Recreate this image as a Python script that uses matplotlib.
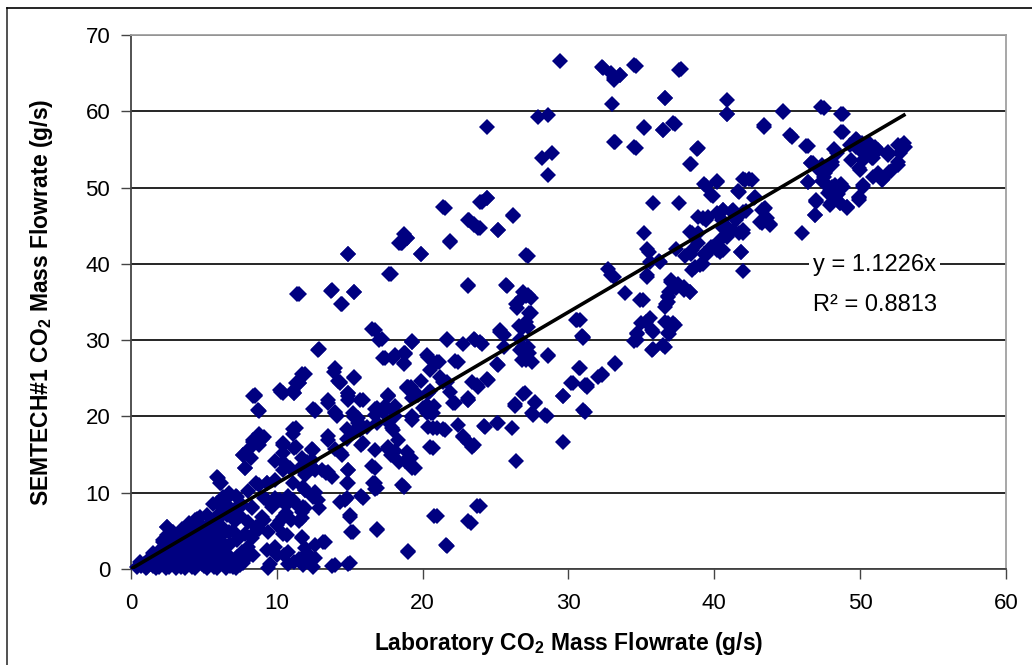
import matplotlib.pyplot as plt
import numpy as np
from matplotlib.lines import Line2D

plt.rcParams["font.family"] = ["Liberation Sans", "DejaVu Sans"]
plt.rcParams["mathtext.fontset"] = "custom"
plt.rcParams["mathtext.rm"] = "Liberation Sans"
plt.rcParams["mathtext.bf"] = "Liberation Sans:bold"

# Laboratory vs SEMTECH#1 CO2 mass flowrate (g/s), grouped by region of the plot
lab_upper = [29.4, 32.3, 32.9, 33.1, 33.5, 34.5, 37.7, 33.0, 33.1, 34.5,
             35.2, 36.5, 36.6, 37.2, 24.4, 27.9, 28.6, 28.2, 28.9, 28.6,
             40.9, 40.9, 38.8, 38.3, 43.4, 44.7, 45.2, 46.3, 47.3, 48.7,
             48.7, 40.2, 39.3, 42.0, 42.4, 41.6, 39.8, 35.8, 37.6, 38.3,
             38.9, 39.4, 38.9, 35.2, 35.4, 36.2, 32.7, 32.9, 33.9, 37.0,
             37.5, 36.9, 38.3, 37.9, 38.0, 37.4, 38.4, 38.7, 39.2, 39.3,
             39.9, 40.4, 40.6, 40.9, 41.2, 41.5, 41.7, 42.0, 41.8, 42.0,
             42.2, 42.7, 43.4, 43.1, 43.8, 43.6, 46.0, 46.4, 46.6, 47.0,
             46.9, 47.4, 47.6, 47.4, 47.9, 48.0, 48.3, 48.5, 48.7, 49.1,
             49.4, 49.7, 49.9, 49.9, 50.2, 50.3, 50.6, 50.8, 51.0, 51.2,
             51.6, 51.9, 52.1, 52.6, 52.8, 53.0, 49.7, 50.1, 48.1, 48.2]
sem_upper = [66.6, 65.8, 65.0, 64.3, 64.8, 66.0, 65.5, 61.0, 56.0, 55.3,
             57.9, 57.6, 61.8, 58.5, 57.9, 59.2, 59.5, 53.9, 54.5, 51.6,
             61.5, 59.7, 55.1, 53.1, 58.2, 60.0, 56.9, 55.5, 60.5, 59.7,
             57.3, 50.8, 50.4, 51.1, 51.1, 49.6, 49.0, 48.0, 48.0, 44.2,
             46.2, 45.8, 44.1, 44.1, 41.9, 40.4, 39.3, 38.5, 36.2, 37.9,
             37.3, 36.3, 36.3, 36.9, 41.0, 42.0, 41.3, 39.6, 40.0, 41.3,
             42.2, 41.6, 44.7, 43.9, 46.9, 45.8, 44.0, 44.4, 41.6, 39.1,
             46.9, 48.6, 47.2, 45.5, 45.2, 46.0, 44.0, 50.7, 53.2, 48.3,
             46.4, 53.0, 51.9, 50.8, 49.7, 48.0, 50.3, 49.1, 50.4, 47.5,
             53.6, 55.3, 52.5, 48.7, 50.3, 54.8, 55.8, 53.9, 55.3, 51.9,
             51.1, 54.7, 52.2, 53.3, 55.5, 55.8, 56.4, 55.8, 53.4, 55.0]

lab_upper2 = [32.4, 33.1, 33.5, 34.6, 37.6, 36.6, 40.9, 35.2, 36.5, 37.3,
              33.2, 34.6, 38.9, 38.4, 43.4, 44.7, 45.3, 46.4, 47.5, 48.8,
              48.8, 39.4, 40.2, 39.9, 41.7, 42.1, 42.6, 42.8, 43.5, 40.6,
              41.3, 46.4, 46.8, 47.0, 47.5, 48.1, 48.1, 48.8, 49.9, 50.2,
              49.3, 49.8, 50.0, 50.2, 50.7, 51.2, 50.9, 50.0, 50.9, 51.5,
              51.9, 52.6, 53.1, 52.7, 52.6, 52.0, 48.4, 46.6, 47.2, 47.6,
              47.8, 48.3, 48.6, 49.1]
sem_upper2 = [65.7, 64.1, 64.8, 65.9, 65.4, 61.7, 59.6, 57.8, 57.5, 58.3,
              56.0, 55.2, 55.2, 53.1, 57.9, 59.9, 56.6, 55.4, 60.4, 59.6,
              57.3, 50.2, 50.7, 48.9, 49.4, 51.0, 51.0, 48.8, 47.3, 47.1,
              47.1, 50.7, 53.2, 48.4, 51.4, 50.1, 53.0, 50.1, 48.6, 50.1,
              55.6, 56.2, 54.9, 53.6, 54.9, 54.9, 53.9, 52.3, 51.4, 51.0,
              54.3, 55.6, 55.3, 54.5, 53.0, 52.0, 54.5, 53.2, 52.3, 50.6,
              49.3, 48.8, 48.0, 47.5]

lab_band = [35.5, 35.6, 36.3, 33.1, 35.1, 35.4, 37.0, 37.4, 37.9, 38.3,
            36.8, 36.6, 36.8, 35.0, 35.6, 34.7, 34.7, 35.8, 36.8, 37.3,
            36.8, 35.7, 36.6, 33.2, 32.3, 31.3, 31.0, 30.8, 38.5, 38.5,
            39.0, 39.4, 38.5, 38.9, 39.2, 39.6, 40.2, 40.6, 41.2, 42.0,
            39.8, 40.2, 40.6, 40.4, 40.9, 41.3, 40.9, 40.5, 41.8, 42.0,
            43.3, 43.3, 43.8, 46.9, 47.0, 47.9, 48.6, 49.1, 49.9]
sem_band = [41.6, 40.2, 40.2, 38.3, 35.3, 38.3, 37.6, 36.8, 36.6, 36.3,
            35.7, 34.3, 35.0, 32.2, 32.9, 30.9, 30.0, 31.1, 30.9, 32.0,
            32.2, 28.7, 29.1, 27.0, 25.4, 24.1, 30.4, 32.6, 44.0, 39.2,
            39.8, 41.2, 41.8, 42.7, 46.0, 46.1, 46.7, 47.1, 46.8, 46.8,
            42.2, 41.8, 41.8, 43.1, 43.5, 44.4, 44.8, 45.7, 41.6, 44.0,
            47.1, 45.3, 45.1, 46.4, 48.1, 47.7, 48.0, 47.3, 48.4]

lab_mid = [36.6, 37.2, 36.9, 36.5, 35.8, 35.7, 35.3, 34.7, 34.5, 34.9,
           35.4, 36.7, 36.8, 33.2, 32.3, 30.7, 30.9, 30.5, 30.2, 31.1,
           29.6, 31.0, 29.6, 28.6, 28.4, 27.5, 27.7, 26.9, 27.1, 27.3,
           26.9, 26.6, 27.1, 27.3, 27.1, 26.9, 26.4, 27.1, 25.7, 26.2,
           26.7, 26.3, 26.1, 26.4, 25.2, 25.5, 25.3, 25.1, 24.4, 24.2,
           23.7, 23.7, 23.1, 23.4, 23.1, 22.8, 23.1, 23.9, 23.5, 23.1,
           23.2, 23.5, 23.8, 24.1, 24.4, 25.2, 21.4, 21.9, 19.9, 18.7,
           18.5, 17.7, 14.9, 11.4, 13.7, 15.3, 14.4, 21.7, 22.2, 21.0,
           20.3, 19.9, 20.5, 20.8, 20.3, 21.0, 21.4, 20.5, 20.8, 21.6,
           19.0, 19.3, 18.8, 18.6, 19.2, 19.2, 19.3, 18.7, 18.1, 17.4,
           17.2, 16.7, 17.6, 17.4, 18.1, 16.7, 16.9, 17.6, 17.9, 18.1,
           16.6, 16.7, 16.5, 16.9, 15.7, 15.3, 15.6, 15.3, 14.9, 14.8,
           14.8, 15.8, 14.9, 14.8, 14.7, 15.8, 15.0, 15.1, 14.9, 13.8,
           13.2, 14.0, 14.2, 13.5, 14.0, 13.5, 14.0, 14.4, 13.5, 12.9,
           11.7, 11.3, 11.1, 10.2, 12.5, 12.4, 12.2, 11.7, 12.6, 11.8,
           12.6, 12.9, 11.9, 11.5, 11.7, 11.9, 11.5, 10.8, 11.3, 11.1,
           11.3, 10.4, 9.9, 10.4, 10.8, 10.2, 10.6, 10.2, 10.4, 9.9,
           10.5, 9.5, 9.0, 8.8, 9.3, 8.8, 9.3, 9.0, 8.8, 8.4,
           8.4, 8.7, 8.1, 7.7, 7.8, 8.0, 8.3, 8.3, 8.1, 7.2,
           6.7, 7.1, 6.5, 6.3, 6.1, 6.8, 5.9, 6.1, 5.6, 5.2,
           4.5, 5.0, 4.3, 5.4, 4.7, 4.1, 3.2, 3.6, 2.9, 2.5,
           2.7, 2.3, 2.0, 1.6, 1.4, 0.9, 0.7]
sem_mid = [32.4, 32.2, 30.8, 29.4, 28.8, 31.3, 32.4, 30.8, 29.9, 35.3,
           38.6, 34.8, 35.8, 26.9, 25.5, 26.3, 30.5, 32.7, 24.4, 24.1,
           22.7, 20.8, 16.7, 28.0, 20.2, 20.5, 21.9, 23.0, 27.4, 28.3,
           29.1, 31.9, 32.4, 33.6, 35.8, 36.3, 34.7, 41.1, 37.2, 46.4,
           30.2, 21.6, 18.5, 14.2, 19.1, 30.8, 31.3, 26.9, 24.9, 18.8,
           24.1, 8.3, 6.3, 16.0, 16.6, 17.4, 22.4, 29.7, 30.2, 37.2,
           45.8, 45.2, 44.7, 48.1, 48.6, 44.5, 47.5, 43.0, 41.3, 43.9,
           42.7, 38.7, 41.3, 36.1, 36.5, 36.3, 34.8, 30.2, 27.2, 27.1,
           28.0, 24.7, 23.3, 21.3, 20.5, 18.5, 18.3, 16.0, 7.0, 3.1,
           2.4, 13.2, 14.2, 11.0, 14.6, 23.8, 29.9, 28.3, 28.0, 27.7,
           30.2, 31.3, 22.7, 21.3, 21.3, 21.0, 19.1, 15.7, 18.5, 15.5,
           11.3, 10.5, 13.5, 5.2, 22.1, 19.9, 19.1, 25.2, 22.7, 18.3,
           17.1, 16.3, 13.0, 11.3, 9.1, 9.6, 7.1, 4.9, 0.7, 0.4,
           3.5, 26.3, 24.7, 22.1, 20.5, 17.4, 15.7, 15.2, 12.7, 28.8,
           25.6, 24.4, 23.3, 23.5, 21.0, 15.7, 13.5, 14.6, 13.0, 10.7,
           9.9, 8.0, 8.0, 6.3, 4.1, 2.7, 1.3, 0.7, 18.5, 17.7,
           16.0, 16.3, 14.1, 13.0, 9.6, 9.1, 7.4, 6.3, 4.6, 2.9,
           1.8, 0.7, 6.8, 5.2, 9.1, 11.0, 11.3, 17.1, 17.7, 16.9,
           22.7, 20.9, 15.7, 14.9, 13.2, 10.2, 8.0, 4.1, 1.8, 9.6,
           9.9, 6.3, 8.0, 4.6, 2.4, 0.4, 12.1, 11.3, 8.5, 7.1,
           6.6, 5.2, 4.9, 3.5, 2.4, 1.3, 3.5, 2.4, 1.8, 5.5,
           4.3, 2.9, 1.3, 1.8, 0.7, 0.7, 0.4]

lab_centre = [21.5, 23.9, 24.4, 23.1, 23.5, 23.9, 25.2, 26.2, 18.9, 18.6,
              19.9, 21.9, 27.2, 23.1, 25.8, 27.2, 26.8, 27.4, 26.5, 27.4,
              26.9, 27.2, 25.3, 25.6, 30.6, 31.0, 19.3, 21.7, 22.8, 23.6,
              24.1, 25.6, 26.7, 27.0, 27.2, 26.8, 27.5, 28.6, 18.8, 18.7,
              20.4, 21.1, 22.4, 20.5, 25.2, 30.8, 21.2, 21.4, 19.0, 21.7,
              23.4, 23.8, 24.5, 30.3, 31.3, 32.0, 19.3, 20.4, 21.9, 22.1,
              23.1, 27.0, 26.3, 27.7, 29.6, 27.6, 28.5, 31.1, 19.3, 20.0,
              20.6, 14.9, 11.5, 13.8, 15.3, 14.5, 17.8, 18.9, 18.4, 19.3,
              16.5, 17.0, 12.8, 17.3, 18.0, 18.8, 18.7, 11.9, 11.5, 13.9,
              14.3, 15.3, 11.2, 10.3, 8.5, 14.9, 17.6, 18.9]
sem_centre = [47.3, 48.1, 48.6, 45.7, 45.1, 44.7, 44.4, 46.3, 43.4, 42.7,
              41.3, 42.9, 41.0, 37.1, 37.1, 35.9, 35.5, 35.5, 34.2, 33.6,
              31.7, 31.7, 31.1, 30.7, 32.6, 30.3, 29.8, 30.0, 29.5, 30.0,
              29.5, 29.1, 28.7, 28.3, 29.1, 27.4, 27.1, 27.9, 28.3, 27.0,
              27.8, 27.1, 27.1, 26.1, 26.7, 26.3, 25.2, 24.5, 23.9, 24.5,
              24.5, 23.9, 24.8, 24.4, 23.9, 25.2, 22.4, 23.1, 23.2, 21.7,
              22.1, 23.1, 21.4, 21.7, 22.7, 20.2, 20.1, 20.6, 19.9, 21.1,
              20.4, 41.3, 36.0, 36.6, 36.3, 34.7, 38.7, 43.4, 42.7, 29.8,
              31.5, 30.0, 28.7, 27.7, 27.7, 28.2, 26.9, 25.6, 24.4, 25.8,
              24.5, 25.0, 23.1, 23.2, 22.8, 23.1, 22.7, 23.9]

lab_lower = [14.3, 14.9, 12.6, 13.5, 14.0, 14.1, 14.9, 15.9, 15.2, 15.6,
             15.8, 15.2, 17.6, 16.9, 17.3, 16.7, 17.9, 18.1, 18.9, 19.3,
             19.7, 20.4, 20.7, 20.3, 17.6, 16.2, 15.7, 18.0, 18.3, 19.3,
             20.4, 20.7, 21.5, 22.2, 22.4, 22.8, 23.1, 23.5, 24.3, 25.1,
             20.7, 13.5, 12.5, 14.5, 15.9, 16.7, 17.6, 17.8, 18.4, 18.9,
             19.5, 16.7, 14.9, 13.4, 13.1, 13.8, 11.9, 12.4, 14.9, 16.7,
             16.9, 18.7, 11.9, 12.5, 12.8, 14.3, 14.8, 15.9, 15.0, 11.8,
             11.7, 16.9, 15.2, 13.3, 19.0, 21.7, 21.0, 23.3, 23.9, 14.0,
             15.0, 12.1, 11.8, 12.6]
sem_lower = [24.4, 23.1, 20.8, 21.8, 20.6, 20.0, 22.2, 22.2, 20.4, 19.8,
             18.9, 18.0, 22.8, 21.1, 20.6, 20.2, 20.8, 20.0, 23.7, 20.0,
             22.8, 20.8, 20.4, 21.5, 19.3, 18.6, 18.2, 18.2, 16.9, 19.5,
             18.6, 18.5, 18.2, 21.8, 18.9, 17.3, 22.1, 16.3, 18.6, 19.1,
             15.9, 16.9, 15.6, 14.9, 16.5, 15.6, 16.0, 14.9, 14.0, 15.3,
             13.2, 13.2, 13.0, 12.6, 13.0, 12.1, 12.3, 14.3, 11.3, 11.3,
             10.6, 10.7, 10.4, 9.4, 9.0, 8.8, 9.3, 9.3, 6.8, 8.1,
             6.7, 5.1, 4.9, 3.5, 2.2, 3.0, 6.9, 6.0, 8.3, 0.5,
             0.8, 2.1, 0.5, 1.4]

lab_low = [8.5, 8.8, 10.4, 11.2, 11.5, 12.6, 11.1, 9.1, 8.4, 8.8,
           7.7, 8.2, 7.8, 10.4, 11.2, 10.4, 12.4, 10.4, 10.9, 11.6,
           12.1, 12.5, 6.0, 6.2, 8.6, 9.3, 9.9, 11.1, 11.9, 12.6,
           6.8, 7.6, 8.3, 9.1, 9.9, 9.7, 10.6, 11.1, 11.5, 11.7,
           10.4, 11.0, 10.0, 9.1, 8.6, 9.4, 10.7, 11.7, 12.6, 9.3,
           10.0, 10.8, 11.2, 11.9, 9.4, 12.5, 8.0, 8.3, 7.1, 6.7,
           5.9, 7.3, 8.0, 8.4, 7.3, 6.6, 7.5, 5.9, 5.2, 4.5,
           3.8, 3.2, 2.5, 1.8, 1.1, 4.7, 4.4, 4.0, 4.2, 4.9,
           5.4, 5.9, 6.1, 5.3, 4.7, 3.8, 3.4, 2.5, 2.8, 2.2,
           2.9, 3.6, 4.3, 4.9, 5.6, 6.1, 6.3, 2.0, 1.5, 1.3,
           0.6, 2.5, 3.2, 4.0, 4.7, 5.4, 4.5, 6.8, 7.3, 7.3,
           6.6, 5.9, 6.3, 7.3, 5.8, 3.8]
sem_low = [22.7, 20.7, 23.1, 23.1, 24.4, 20.7, 18.4, 17.3, 16.6, 16.3,
           14.9, 14.6, 13.2, 16.5, 15.9, 15.2, 15.6, 14.0, 13.2, 13.2,
           14.0, 13.2, 11.9, 11.3, 11.3, 11.3, 11.7, 11.3, 10.4, 10.1,
           9.7, 8.4, 8.1, 9.3, 9.3, 8.1, 8.4, 9.0, 8.1, 7.5,
           6.8, 6.4, 5.8, 6.4, 5.5, 4.9, 4.5, 4.2, 3.1, 2.5,
           1.8, 2.2, 0.9, 0.9, 0.1, 0.3, 6.2, 4.5, 6.4, 4.9,
           4.7, 3.8, 2.9, 1.8, 1.6, 1.2, 0.5, 0.9, 0.8, 0.8,
           0.5, 0.5, 0.8, 0.5, 0.3, 6.8, 6.4, 6.0, 5.1, 5.5,
           6.0, 6.4, 7.3, 4.2, 3.8, 3.8, 4.2, 5.5, 4.7, 3.8,
           2.9, 2.5, 2.5, 2.5, 2.9, 3.8, 2.5, 2.5, 2.1, 1.4,
           0.9, 1.8, 1.6, 1.6, 1.6, 1.8, 3.4, 7.7, 8.1, 7.1,
           8.4, 8.6, 9.4, 9.4, 6.0, 4.9]

lab_origin = [1.2, 1.5, 1.8, 2.1, 2.4, 2.7, 3.0, 3.3, 3.6, 2.2,
              2.5, 2.9, 3.5, 4.0, 1.9, 2.6, 3.4, 4.2, 5.0, 5.7,
              6.4, 7.0, 1.5, 2.2, 3.0, 3.8, 4.6, 5.4, 6.2, 7.0,
              3.3, 4.0, 4.8, 5.6, 6.6, 7.6, 4.3, 5.1, 6.0, 6.8,
              3.9, 4.6, 5.5, 6.2, 7.0, 7.8, 5.8, 6.6, 7.5, 0.4,
              1.0, 1.7, 2.4, 3.1, 3.7, 4.4, 5.2, 5.9, 6.5, 7.2,
              3.6, 4.2, 4.9, 5.7, 6.4, 7.1, 2.0, 2.8, 3.5, 4.3,
              5.0, 5.8, 6.9, 7.7, 8.2, 1.3, 2.3, 3.2, 4.1, 5.3]
sem_origin = [0.9, 1.3, 1.7, 2.2, 2.7, 3.1, 3.5, 3.9, 4.2, 3.6,
              4.4, 4.9, 5.2, 5.0, 0.3, 0.3, 0.3, 0.3, 0.4, 0.3,
              0.5, 0.3, 0.4, 1.0, 1.0, 1.0, 1.2, 1.1, 1.3, 1.2,
              2.0, 2.2, 2.0, 2.1, 2.0, 2.2, 3.0, 3.2, 3.1, 3.3,
              2.9, 4.2, 4.3, 5.6, 5.0, 4.6, 5.6, 7.1, 7.0, 0.2,
              0.1, 0.1, 0.1, 0.1, 0.1, 0.1, 0.1, 0.1, 0.1, 0.1,
              0.7, 0.6, 0.7, 0.6, 0.8, 0.7, 1.5, 1.4, 1.6, 1.5,
              1.5, 1.6, 1.0, 0.8, 1.9, 0.8, 2.7, 2.6, 2.5, 2.6]

# Linear fit through the origin
slope = 1.1226
r_squared = 0.8813
fit_x = [0.0, 53.0]

lab = np.concatenate([lab_upper, lab_upper2, lab_band, lab_mid, lab_centre,
                      lab_lower, lab_low, lab_origin])
sem = np.concatenate([sem_upper, sem_upper2, sem_band, sem_mid, sem_centre,
                      sem_lower, sem_low, sem_origin])

fig = plt.figure(figsize=(10.32, 6.65), dpi=100)
ax = fig.add_axes([0.1269, 0.1444, 0.8479, 0.8030])

ax.plot(lab, sem, linestyle="none", marker="D", markersize=8,
        color="#000080", markeredgewidth=0, clip_on=False, zorder=3)
ax.plot(fit_x, [slope * v for v in fit_x], color="black", linewidth=2.6, zorder=4)

ax.set_xlim(0, 60)
ax.set_ylim(0, 70)
ax.set_xticks(np.arange(0, 61, 10))
ax.set_yticks(np.arange(0, 71, 10))
ax.yaxis.grid(True, color="black", linewidth=1.2)
ax.set_axisbelow(True)

for side in ("left", "bottom"):
    ax.spines[side].set_color("#444444")
    ax.spines[side].set_linewidth(1.3)
for side in ("top", "right"):
    ax.spines[side].set_color("#a0a0a0")
    ax.spines[side].set_linewidth(1.3)

ax.tick_params(axis="both", direction="out", length=7, width=1,
               color="#444444", labelsize=16)
ax.tick_params(axis="x", pad=10)
ax.tick_params(axis="y", pad=8)

ax.set_xlabel(r"Laboratory CO$_\mathbf{2}$ Mass Flowrate (g/s)",
              fontsize=16.5, fontweight="bold", labelpad=12)
ax.set_ylabel(r"SEMTECH#1 CO$_\mathbf{2}$ Mass Flowrate (g/s)",
              fontsize=16.5, fontweight="bold", labelpad=22)

box = dict(facecolor="white", edgecolor="none", pad=3)
ax.text(51.0, 39.9, f"y = {slope}x", fontsize=17, ha="center", va="center",
        bbox=box, zorder=5)
ax.text(51.0, 34.6, f"R² = {r_squared}", fontsize=17, ha="center",
        va="center", zorder=5)

# frame edges around the chart area
fig.add_artist(Line2D([7 / 1032, 7 / 1032], [0, 1 - 8 / 665],
                      transform=fig.transFigure, color="#333333", linewidth=1.2))
fig.add_artist(Line2D([7 / 1032, 1], [1 - 8 / 665, 1 - 8 / 665],
                      transform=fig.transFigure, color="black", linewidth=1.2))

fig.savefig("out.png", dpi=100)
